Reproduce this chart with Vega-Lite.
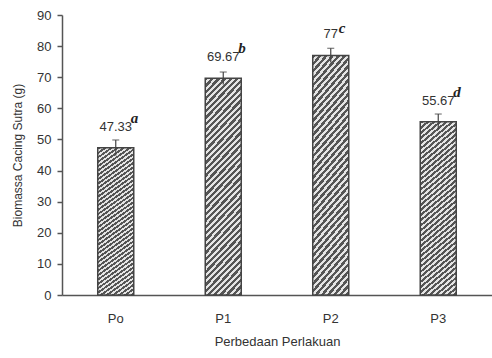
{
  "$schema": "https://vega.github.io/schema/vega-lite/v6.json",
  "width": 430,
  "height": 280,
  "autosize": {"type": "none"},
  "padding": {"left": 62, "top": 15, "right": 0, "bottom": 63},
  "background": "white",
  "config": {
    "font": "Liberation Sans",
    "view": {"stroke": null},
    "axisY": {
      "titleFont": "Liberation Sans",
      "titleFontSize": 12,
      "titleFontWeight": "normal",
      "titleColor": "#333333",
      "titlePadding": 12,
      "labelOverlap": false,
      "labelFont": "Liberation Sans",
      "labelFontSize": 13,
      "labelColor": "#333333",
      "labelPadding": 6,
      "tickSize": 5,
      "tickColor": "#555555",
      "tickWidth": 1.5,
      "domainColor": "#555555",
      "domainWidth": 1.5,
      "grid": false
    }
  },
  "data": {
    "values": [
      {"group": "Po", "biomass": 47.33, "err": 2.5, "label": "47.33", "letter": "a"},
      {"group": "P1", "biomass": 69.67, "err": 2.0, "label": "69.67", "letter": "b"},
      {"group": "P2", "biomass": 77.0, "err": 2.3, "label": "77", "letter": "c"},
      {"group": "P3", "biomass": 55.67, "err": 2.5, "label": "55.67", "letter": "d"}
    ]
  },
  "encoding": {
    "x": {
      "field": "group",
      "type": "nominal",
      "sort": null,
      "scale": {"paddingInner": 0.665, "paddingOuter": 0.3325},
      "axis": {
        "title": "Perbedaan Perlakuan",
        "titleFont": "Liberation Sans",
        "titleFontSize": 13,
        "titleFontWeight": "normal",
        "titleColor": "#333333",
        "titlePadding": 10,
        "labelAngle": 0,
        "labelFont": "Liberation Sans",
        "labelFontSize": 13,
        "labelColor": "#333333",
        "labelPadding": 17,
        "ticks": false,
        "domainColor": "#555555",
        "domainWidth": 1.5
      }
    }
  },
  "layer": [
    {
      "mark": {
        "type": "bar",
        "stroke": "#444444",
        "strokeWidth": 1.5,
        "fill": {
          "gradient": "linear",
          "x1": 0, "y1": 0, "x2": 0.2, "y2": 1.15,
          "stops": [
            {"offset": 0.000, "color": "#555555"}, {"offset": 0.013, "color": "#555555"}, {"offset": 0.013, "color": "#e4e4e4"}, {"offset": 0.025, "color": "#e4e4e4"},
            {"offset": 0.025, "color": "#555555"}, {"offset": 0.038, "color": "#555555"}, {"offset": 0.038, "color": "#e4e4e4"}, {"offset": 0.050, "color": "#e4e4e4"},
            {"offset": 0.050, "color": "#555555"}, {"offset": 0.063, "color": "#555555"}, {"offset": 0.063, "color": "#e4e4e4"}, {"offset": 0.075, "color": "#e4e4e4"},
            {"offset": 0.075, "color": "#555555"}, {"offset": 0.088, "color": "#555555"}, {"offset": 0.088, "color": "#e4e4e4"}, {"offset": 0.100, "color": "#e4e4e4"},
            {"offset": 0.100, "color": "#555555"}, {"offset": 0.113, "color": "#555555"}, {"offset": 0.113, "color": "#e4e4e4"}, {"offset": 0.125, "color": "#e4e4e4"},
            {"offset": 0.125, "color": "#555555"}, {"offset": 0.138, "color": "#555555"}, {"offset": 0.138, "color": "#e4e4e4"}, {"offset": 0.150, "color": "#e4e4e4"},
            {"offset": 0.150, "color": "#555555"}, {"offset": 0.163, "color": "#555555"}, {"offset": 0.163, "color": "#e4e4e4"}, {"offset": 0.175, "color": "#e4e4e4"},
            {"offset": 0.175, "color": "#555555"}, {"offset": 0.188, "color": "#555555"}, {"offset": 0.188, "color": "#e4e4e4"}, {"offset": 0.200, "color": "#e4e4e4"},
            {"offset": 0.200, "color": "#555555"}, {"offset": 0.213, "color": "#555555"}, {"offset": 0.213, "color": "#e4e4e4"}, {"offset": 0.225, "color": "#e4e4e4"},
            {"offset": 0.225, "color": "#555555"}, {"offset": 0.238, "color": "#555555"}, {"offset": 0.238, "color": "#e4e4e4"}, {"offset": 0.250, "color": "#e4e4e4"},
            {"offset": 0.250, "color": "#555555"}, {"offset": 0.263, "color": "#555555"}, {"offset": 0.263, "color": "#e4e4e4"}, {"offset": 0.275, "color": "#e4e4e4"},
            {"offset": 0.275, "color": "#555555"}, {"offset": 0.288, "color": "#555555"}, {"offset": 0.288, "color": "#e4e4e4"}, {"offset": 0.300, "color": "#e4e4e4"},
            {"offset": 0.300, "color": "#555555"}, {"offset": 0.313, "color": "#555555"}, {"offset": 0.313, "color": "#e4e4e4"}, {"offset": 0.325, "color": "#e4e4e4"},
            {"offset": 0.325, "color": "#555555"}, {"offset": 0.338, "color": "#555555"}, {"offset": 0.338, "color": "#e4e4e4"}, {"offset": 0.350, "color": "#e4e4e4"},
            {"offset": 0.350, "color": "#555555"}, {"offset": 0.363, "color": "#555555"}, {"offset": 0.363, "color": "#e4e4e4"}, {"offset": 0.375, "color": "#e4e4e4"},
            {"offset": 0.375, "color": "#555555"}, {"offset": 0.388, "color": "#555555"}, {"offset": 0.388, "color": "#e4e4e4"}, {"offset": 0.400, "color": "#e4e4e4"},
            {"offset": 0.400, "color": "#555555"}, {"offset": 0.413, "color": "#555555"}, {"offset": 0.413, "color": "#e4e4e4"}, {"offset": 0.425, "color": "#e4e4e4"},
            {"offset": 0.425, "color": "#555555"}, {"offset": 0.438, "color": "#555555"}, {"offset": 0.438, "color": "#e4e4e4"}, {"offset": 0.450, "color": "#e4e4e4"},
            {"offset": 0.450, "color": "#555555"}, {"offset": 0.463, "color": "#555555"}, {"offset": 0.463, "color": "#e4e4e4"}, {"offset": 0.475, "color": "#e4e4e4"},
            {"offset": 0.475, "color": "#555555"}, {"offset": 0.488, "color": "#555555"}, {"offset": 0.488, "color": "#e4e4e4"}, {"offset": 0.500, "color": "#e4e4e4"},
            {"offset": 0.500, "color": "#555555"}, {"offset": 0.513, "color": "#555555"}, {"offset": 0.513, "color": "#e4e4e4"}, {"offset": 0.525, "color": "#e4e4e4"},
            {"offset": 0.525, "color": "#555555"}, {"offset": 0.538, "color": "#555555"}, {"offset": 0.538, "color": "#e4e4e4"}, {"offset": 0.550, "color": "#e4e4e4"},
            {"offset": 0.550, "color": "#555555"}, {"offset": 0.563, "color": "#555555"}, {"offset": 0.563, "color": "#e4e4e4"}, {"offset": 0.575, "color": "#e4e4e4"},
            {"offset": 0.575, "color": "#555555"}, {"offset": 0.588, "color": "#555555"}, {"offset": 0.588, "color": "#e4e4e4"}, {"offset": 0.600, "color": "#e4e4e4"},
            {"offset": 0.600, "color": "#555555"}, {"offset": 0.613, "color": "#555555"}, {"offset": 0.613, "color": "#e4e4e4"}, {"offset": 0.625, "color": "#e4e4e4"},
            {"offset": 0.625, "color": "#555555"}, {"offset": 0.638, "color": "#555555"}, {"offset": 0.638, "color": "#e4e4e4"}, {"offset": 0.650, "color": "#e4e4e4"},
            {"offset": 0.650, "color": "#555555"}, {"offset": 0.663, "color": "#555555"}, {"offset": 0.663, "color": "#e4e4e4"}, {"offset": 0.675, "color": "#e4e4e4"},
            {"offset": 0.675, "color": "#555555"}, {"offset": 0.688, "color": "#555555"}, {"offset": 0.688, "color": "#e4e4e4"}, {"offset": 0.700, "color": "#e4e4e4"},
            {"offset": 0.700, "color": "#555555"}, {"offset": 0.713, "color": "#555555"}, {"offset": 0.713, "color": "#e4e4e4"}, {"offset": 0.725, "color": "#e4e4e4"},
            {"offset": 0.725, "color": "#555555"}, {"offset": 0.738, "color": "#555555"}, {"offset": 0.738, "color": "#e4e4e4"}, {"offset": 0.750, "color": "#e4e4e4"},
            {"offset": 0.750, "color": "#555555"}, {"offset": 0.763, "color": "#555555"}, {"offset": 0.763, "color": "#e4e4e4"}, {"offset": 0.775, "color": "#e4e4e4"},
            {"offset": 0.775, "color": "#555555"}, {"offset": 0.788, "color": "#555555"}, {"offset": 0.788, "color": "#e4e4e4"}, {"offset": 0.800, "color": "#e4e4e4"},
            {"offset": 0.800, "color": "#555555"}, {"offset": 0.813, "color": "#555555"}, {"offset": 0.813, "color": "#e4e4e4"}, {"offset": 0.825, "color": "#e4e4e4"},
            {"offset": 0.825, "color": "#555555"}, {"offset": 0.838, "color": "#555555"}, {"offset": 0.838, "color": "#e4e4e4"}, {"offset": 0.850, "color": "#e4e4e4"},
            {"offset": 0.850, "color": "#555555"}, {"offset": 0.863, "color": "#555555"}, {"offset": 0.863, "color": "#e4e4e4"}, {"offset": 0.875, "color": "#e4e4e4"},
            {"offset": 0.875, "color": "#555555"}, {"offset": 0.888, "color": "#555555"}, {"offset": 0.888, "color": "#e4e4e4"}, {"offset": 0.900, "color": "#e4e4e4"},
            {"offset": 0.900, "color": "#555555"}, {"offset": 0.913, "color": "#555555"}, {"offset": 0.913, "color": "#e4e4e4"}, {"offset": 0.925, "color": "#e4e4e4"},
            {"offset": 0.925, "color": "#555555"}, {"offset": 0.938, "color": "#555555"}, {"offset": 0.938, "color": "#e4e4e4"}, {"offset": 0.950, "color": "#e4e4e4"},
            {"offset": 0.950, "color": "#555555"}, {"offset": 0.963, "color": "#555555"}, {"offset": 0.963, "color": "#e4e4e4"}, {"offset": 0.975, "color": "#e4e4e4"},
            {"offset": 0.975, "color": "#555555"}, {"offset": 0.988, "color": "#555555"}, {"offset": 0.988, "color": "#e4e4e4"}, {"offset": 1.000, "color": "#e4e4e4"}
          ]
        }
      },
      "encoding": {
        "y": {
          "field": "biomass",
          "type": "quantitative",
          "scale": {"domain": [0, 90], "nice": false},
          "axis": {"title": "Biomassa Cacing Sutra (g)", "values": [0, 10, 20, 30, 40, 50, 60, 70, 80, 90]}
        }
      }
    },
    {
      "transform": [
        {"calculate": "datum.biomass - datum.err", "as": "lo"},
        {"calculate": "datum.biomass + datum.err", "as": "hi"}
      ],
      "mark": {"type": "rule", "color": "#444444", "strokeWidth": 1.2},
      "encoding": {
        "y": {"field": "lo", "type": "quantitative", "axis": {"title": "Biomassa Cacing Sutra (g)", "values": [0, 10, 20, 30, 40, 50, 60, 70, 80, 90]}},
        "y2": {"field": "hi"}
      }
    },
    {
      "transform": [
        {"calculate": "datum.biomass + datum.err", "as": "hi"}
      ],
      "mark": {"type": "tick", "color": "#444444", "thickness": 1.2, "size": 7, "orient": "horizontal"},
      "encoding": {
        "y": {"field": "hi", "type": "quantitative", "axis": {"title": "Biomassa Cacing Sutra (g)", "values": [0, 10, 20, 30, 40, 50, 60, 70, 80, 90]}}
      }
    },
    {
      "mark": {"type": "text", "baseline": "bottom", "dy": -14, "font": "Liberation Sans", "fontSize": 13, "color": "#333333"},
      "encoding": {
        "y": {"field": "biomass", "type": "quantitative", "axis": {"title": "Biomassa Cacing Sutra (g)", "values": [0, 10, 20, 30, 40, 50, 60, 70, 80, 90]}},
        "text": {"field": "label"}
      }
    },
    {
      "transform": [{"filter": "length(datum.label) > 2"}],
      "mark": {"type": "text", "align": "left", "baseline": "middle", "dx": 15, "dy": -30, "font": "Liberation Serif", "fontSize": 15, "fontWeight": "bold", "fontStyle": "italic", "color": "#222222"},
      "encoding": {
        "y": {"field": "biomass", "type": "quantitative", "axis": {"title": "Biomassa Cacing Sutra (g)", "values": [0, 10, 20, 30, 40, 50, 60, 70, 80, 90]}},
        "text": {"field": "letter"}
      }
    },
    {
      "transform": [{"filter": "length(datum.label) <= 2"}],
      "mark": {"type": "text", "align": "left", "baseline": "middle", "dx": 8, "dy": -27, "font": "Liberation Serif", "fontSize": 15, "fontWeight": "bold", "fontStyle": "italic", "color": "#222222"},
      "encoding": {
        "y": {"field": "biomass", "type": "quantitative", "axis": {"title": "Biomassa Cacing Sutra (g)", "values": [0, 10, 20, 30, 40, 50, 60, 70, 80, 90]}},
        "text": {"field": "letter"}
      }
    }
  ]
}
